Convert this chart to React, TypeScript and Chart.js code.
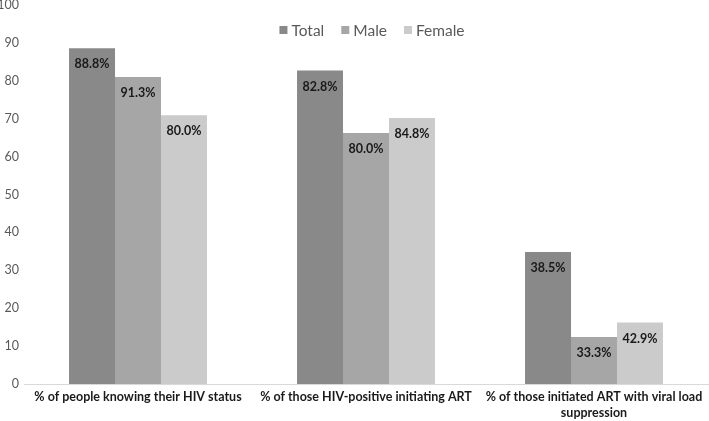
import React, { useEffect, useRef } from "react";
import { Chart, registerables } from "chart.js";

Chart.register(...registerables);

const categories: (string | string[])[] = [
  "% of people knowing their HIV status",
  "% of those HIV-positive initiating ART",
  ["% of those initiated ART with viral load", "suppression"],
];
const seriesNames = ["Total", "Male", "Female"];
const totalValues = [88.6, 82.7, 34.8];
const maleValues = [81.0, 66.2, 12.4];
const femaleValues = [70.9, 70.2, 16.2];
const totalLabels = ["88.8%", "82.8%", "38.5%"];
const maleLabels = ["91.3%", "80.0%", "33.3%"];
const femaleLabels = ["80.0%", "84.8%", "42.9%"];
const colors = ["#898989", "#a6a6a6", "#cbcbcb"];

const FONT = "Lato, 'Liberation Sans', sans-serif";

const labelPlugin = {
  id: "barLabels",
  afterDatasetsDraw(chart: any) {
    const ctx = chart.ctx;
    const labelSets = [totalLabels, maleLabels, femaleLabels];
    ctx.save();
    ctx.font = `bold 12.5px ${FONT}`;
    ctx.fillStyle = "#1a1a1a";
    ctx.textAlign = "center";
    ctx.textBaseline = "middle";
    chart.data.datasets.forEach((ds: any, i: number) => {
      const meta = chart.getDatasetMeta(i);
      meta.data.forEach((bar: any, j: number) => {
        ctx.fillText(labelSets[i][j], bar.x, bar.y + 16);
      });
    });
    ctx.restore();
  },
};

const legendPlugin = {
  id: "customLegend",
  afterDraw(chart: any) {
    const ctx = chart.ctx;
    ctx.save();
    ctx.font = `15.5px ${FONT}`;
    ctx.textBaseline = "middle";
    const box = 8;
    const gap = 4;
    const itemGap = 17;
    const widths = chart.data.datasets.map((d: any) => ctx.measureText(d.label).width);
    const total =
      widths.reduce((a: number, b: number) => a + b, 0) +
      chart.data.datasets.length * (box + gap) +
      (chart.data.datasets.length - 1) * itemGap;
    let x = 372 - total / 2;
    const y = 30;
    chart.data.datasets.forEach((d: any, i: number) => {
      ctx.fillStyle = d.backgroundColor;
      ctx.fillRect(x, y - box / 2, box, box);
      x += box + gap;
      ctx.fillStyle = "#595959";
      ctx.fillText(d.label, x, y + 1);
      x += widths[i] + itemGap;
    });
    ctx.restore();
  },
};

export default function App() {
  const ref = useRef<HTMLCanvasElement | null>(null);
  useEffect(() => {
    if (!ref.current) return;
    const valueSets = [totalValues, maleValues, femaleValues];
    const chart = new Chart(ref.current, {
      type: "bar",
      data: {
        labels: categories,
        datasets: seriesNames.map((name, i) => ({
          label: name,
          data: valueSets[i],
          backgroundColor: colors[i],
          borderWidth: 0,
          categoryPercentage: 0.605,
          barPercentage: 1.0,
        })),
      },
      options: {
        responsive: false,
        animation: false,
        layout: { padding: { top: 5, right: 1, left: 0, bottom: 0 } },
        plugins: {
          legend: { display: false },
          tooltip: { enabled: false },
        },
        scales: {
          x: {
            grid: { display: false, drawTicks: false },
            border: { display: true, color: "#d9d9d9", width: 1 },
            ticks: {
              color: "#1a1a1a",
              font: { family: FONT, size: 12.5, weight: "bold", lineHeight: 1.3 },
              maxRotation: 0,
              autoSkip: false,
              padding: 5,
            },
            afterFit(scale: any) {
              scale.height = 37;
            },
          },
          y: {
            min: 0,
            max: 100,
            grid: { display: false, drawTicks: false },
            border: { display: false },
            ticks: {
              stepSize: 10,
              color: "#595959",
              font: { family: FONT, size: 12.5 },
              padding: 5,
            },
            afterFit(scale: any) {
              scale.width = 24;
              scale.paddingTop = 0;
              scale.paddingBottom = 0;
            },
          },
        },
      },
      plugins: [labelPlugin, legendPlugin],
    });
    return () => chart.destroy();
  }, []);
  return (
    <div style={{ position: "absolute", left: 0, top: 0, width: 709, height: 421, background: "#fff" }}>
      <canvas ref={ref} width={709} height={421} />
    </div>
  );
}
